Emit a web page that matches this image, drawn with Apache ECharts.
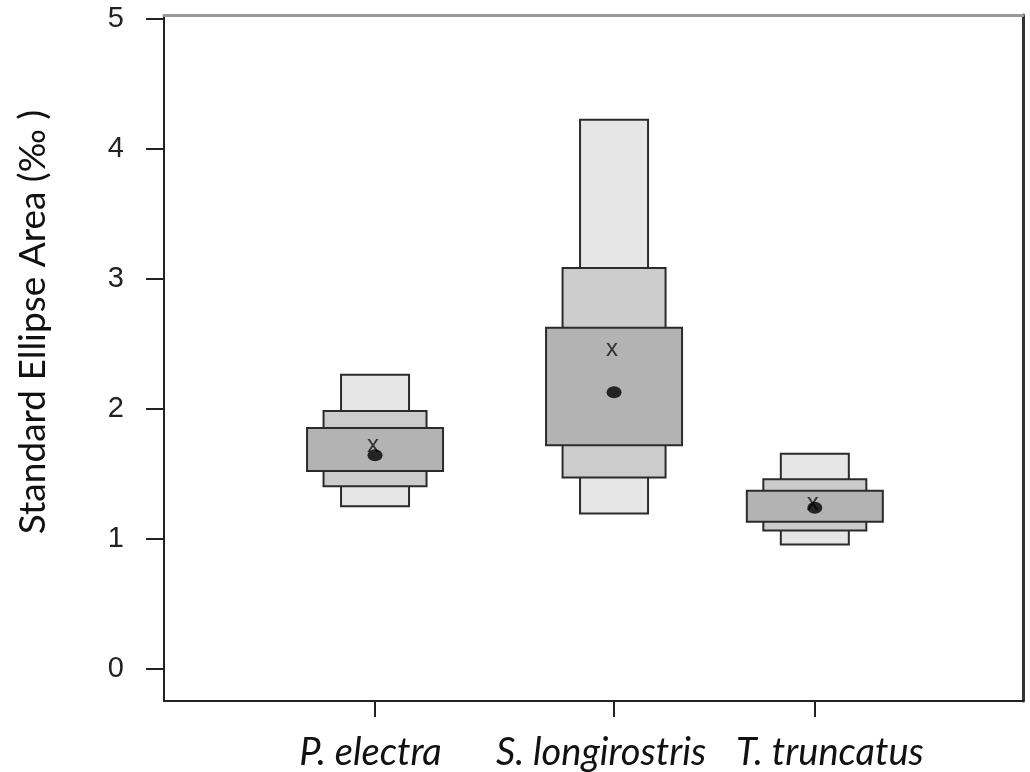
<!DOCTYPE html>
<html>
<head>
<meta charset="utf-8">
<script src="https://cdn.jsdelivr.net/npm/echarts@6/dist/echarts.min.js"></script>
<style>
  html, body { margin: 0; padding: 0; background: #fff; }
  #chart { width: 1030px; height: 772px; }
</style>
</head>
<body>
<div id="chart"></div>
<script>
// species and their x positions
const species = ["P. electra", "S. longirostris", "T. truncatus"];
const xPos = [1, 2, 2.84];
const yTicks = [0, 1, 2, 3, 4, 5];

// credible intervals of SEA (95%, 75%, 50%)
const ci95Lo = [1.25, 1.195, 0.957];
const ci95Hi = [2.263, 4.225, 1.655];
const ci75Lo = [1.404, 1.471, 1.064];
const ci75Hi = [1.983, 3.084, 1.458];
const ci50Lo = [1.522, 1.719, 1.131];
const ci50Hi = [1.852, 2.624, 1.369];
// mode (dot) and mean (x)
const modes = [1.642, 2.128, 1.238];
const means = [1.716, 2.461, 1.271];

// label shift per species (px), labels are not centred on ticks in the original
const labelPad = [[0, 9, 0, 0], [0, 26, 0, 0], [0, 0, 0, 30]];

function boxSeries(lo, hi, w, color) {
  return {
    type: "custom",
    data: xPos.map((x, i) => [x, lo[i], hi[i]]),
    encode: { x: 0, y: [1, 2] },
    renderItem: function (params, api) {
      const p1 = api.coord([api.value(0), api.value(2)]);
      const p2 = api.coord([api.value(0), api.value(1)]);
      return {
        type: "rect",
        shape: { x: p1[0] - w / 2, y: p1[1], width: w, height: p2[1] - p1[1] },
        style: { fill: color, stroke: "#2b2b2b", lineWidth: 2 }
      };
    },
    z: 2
  };
}

const labelFont = { fontFamily: "Lato", fontStyle: "italic", fontSize: 38, color: "#111" };

const chart = echarts.init(document.getElementById("chart"));
chart.setOption({
  animation: false,
  grid: { left: 164, right: 7, top: 15, bottom: 69 },
  xAxis: [
    {
      type: "value",
      min: 0.117,
      max: 3.711,
      position: "bottom",
      splitLine: { show: false },
      axisLine: { onZero: false, lineStyle: { color: "#222", width: 2 } },
      axisTick: { customValues: xPos, length: 16, lineStyle: { color: "#222", width: 2 } },
      axisLabel: {
        customValues: xPos,
        margin: 33,
        formatter: function (v) {
          const i = xPos.indexOf(v);
          return "{s" + i + "|" + species[i] + "}";
        },
        rich: {
          s0: Object.assign({ padding: labelPad[0] }, labelFont),
          s1: Object.assign({ padding: labelPad[1] }, labelFont),
          s2: Object.assign({ padding: labelPad[2] }, labelFont)
        }
      }
    },
    {
      type: "value",
      min: 0.117,
      max: 3.711,
      position: "top",
      splitLine: { show: false },
      axisLine: { onZero: false, lineStyle: { color: "#999", width: 3 } },
      axisTick: { show: false },
      axisLabel: { show: false }
    }
  ],
  yAxis: [
    {
      type: "value",
      min: -0.248,
      max: 5.03,
      splitLine: { show: false },
      axisLine: { show: true, onZero: false, lineStyle: { color: "#222", width: 2 } },
      axisTick: { show: true, customValues: yTicks, length: 18, lineStyle: { color: "#222", width: 2 } },
      axisLabel: {
        customValues: yTicks,
        margin: 40,
        fontFamily: "Liberation Sans",
        fontSize: 29,
        color: "#222"
      }
    },
    {
      type: "value",
      min: -0.248,
      max: 5.03,
      position: "right",
      splitLine: { show: false },
      axisLine: { show: true, onZero: false, lineStyle: { color: "#333", width: 3 } },
      axisTick: { show: false },
      axisLabel: { show: false }
    }
  ],
  graphic: [
    {
      type: "text",
      x: 33,
      y: 322,
      rotation: Math.PI / 2,
      style: {
        text: "Standard Ellipse Area (‰ )",
        font: "37px Lato",
        fill: "#111",
        align: "center",
        verticalAlign: "middle"
      }
    }
  ],
  series: [
    boxSeries(ci95Lo, ci95Hi, 68, "#e6e6e6"),
    boxSeries(ci75Lo, ci75Hi, 103, "#cccccc"),
    boxSeries(ci50Lo, ci50Hi, 136, "#b3b3b3"),
    {
      type: "custom",
      data: xPos.map((x, i) => [x, means[i]]),
      renderItem: function (params, api) {
        const p = api.coord([api.value(0), api.value(1)]);
        return {
          type: "text",
          x: p[0] - 2,
          y: p[1],
          style: {
            text: "x",
            font: "24px Liberation Sans",
            fill: "#333",
            align: "center",
            verticalAlign: "middle"
          }
        };
      },
      z: 3
    },
    {
      type: "scatter",
      data: xPos.map((x, i) => [x, modes[i]]),
      symbol: "circle",
      symbolSize: [15, 12],
      itemStyle: { color: "#000" },
      z: 4
    }
  ]
});
</script>
</body>
</html>
